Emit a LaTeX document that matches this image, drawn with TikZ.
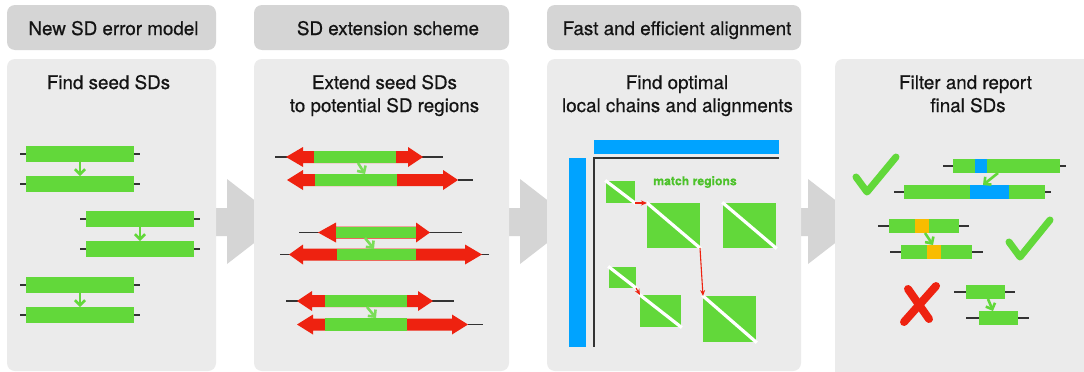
\documentclass[tikz,border=0pt]{standalone}
\usepackage{fontspec}
\setmainfont{TeX Gyre Heros}[FakeBold=0.6]
\newfontfamily\boldgreenfont{TeX Gyre Heros}[FakeBold=0.4]
\usetikzlibrary{arrows.meta,calc}
\definecolor{hdrgray}{HTML}{D5D5D5}
\definecolor{bodygray}{HTML}{EBEBEB}
\definecolor{sdgreen}{HTML}{62D83A}
\definecolor{txtgreen}{HTML}{4DC22B}
\definecolor{sdred}{HTML}{EE2210}
\definecolor{sdblue}{HTML}{00A3FF}
\definecolor{sdorange}{HTML}{F8BC00}
\newcommand\dblarr[5]{\fill[sdred] ({#2},{#1}) -- ({#3},{#1-10}) -- ({#3},{#1-6}) -- ({#4},{#1-6}) -- ({#4},{#1-10}) -- ({#5},{#1}) -- ({#4},{#1+10}) -- ({#4},{#1+6}) -- ({#3},{#1+6}) -- ({#3},{#1+10}) -- cycle;}
\newcommand\lstub[2]{\draw[stub] ($(#1.west)+(-#2,0)$) -- (#1.west);}
\newcommand\rstub[2]{\draw[stub] (#1.east) -- ($(#1.east)+(#2,0)$);}
\newcommand\flowarr[1]{\fill[flowarrow] ({#1-17},208) -- (#1,208) -- (#1,179) -- ({#1+55},221.5) -- (#1,264) -- (#1,236) -- ({#1-17},236) -- cycle;}
\tikzset{
  hdr/.style={fill=hdrgray, rounded corners=8pt},
  bodybox/.style={fill=bodygray, rounded corners=8pt},
  flowarrow/.style={fill=hdrgray},
  bar/.style={rectangle, fill=sdgreen, inner sep=0pt, outer sep=0pt, minimum height=16pt},
  sbar/.style={bar, minimum height=14pt},
  ebar/.style={bar, minimum height=12pt},
  stub/.style={draw=black!80, line width=1.1pt},
  garrow/.style={draw=sdgreen, line width=2.6pt, -{Straight Barb[length=5pt,width=10pt]}},
  rarrow/.style={draw=sdred, line width=1.1pt, -{Stealth[length=6pt,width=5pt]}},
  ttl/.style={font=\fontsize{18.8}{22}\selectfont, anchor=base, inner sep=0pt, text=black!92},
  sq/.style={rectangle, fill=sdgreen, inner sep=0pt, outer sep=0pt, anchor=north west},
  diag/.style={draw=white, line width=3.2pt, shorten <=-1pt, shorten >=-1pt},
  tick/.style={draw=sdgreen, line width=7pt, line cap=round, line join=round},
  cross/.style={draw=sdred, line width=8pt, line cap=round},
}
\begin{document}
\begin{tikzpicture}[x=1pt,y=-1pt]
\useasboundingbox (0,0) rectangle (1084,372);
\clip (0,0) rectangle (1084,372);
\fill[white] (0,0) rectangle (1084,372);
% flow arrows (behind panels)
\flowarr{227}
\flowarr{520}
\flowarr{808}
% headers
\fill[hdr] (7,5) rectangle (216,50);
\fill[hdr] (254,5) rectangle (509,50);
\fill[hdr] (547,5) rectangle (801,50);
% bodies
\fill[bodybox] (7,59) rectangle (216,371);
\fill[bodybox] (254,59) rectangle (509,371);
\fill[bodybox] (547,59) rectangle (801,371);
\fill[bodybox] (835,59) rectangle (1100,390);
% titles
\node[ttl] (h1) at (113.5,35) {New SD error model};
\node[ttl] (h2) at (388,35) {SD extension scheme};
\node[ttl] (h3) at (677,35) {Fast and efficient alignment};
\node[ttl] (t1) at (108.5,89) {Find seed SDs};
\node[ttl] (t2a) at (384.5,89) {Extend seed SDs};
\node[ttl] (t2b) at (384.5,112) {to potential SD regions};
\node[ttl] (t3a) at (677,89) {Find optimal};
\node[ttl] (t3b) at (677.5,112) {local chains and alignments};
\node[ttl] (t4a) at (965.5,89) {Filter and report};
\node[ttl] (t4b) at (968,112) {final SDs};
% ---------------- panel 1
\node[bar, minimum width=108pt] (a1) at (80,154) {};
\node[bar, minimum width=108pt] (a2) at (80,184) {};
\node[bar, minimum width=108pt] (b1) at (140,219) {};
\node[bar, minimum width=108pt] (b2) at (140,249) {};
\node[bar, minimum width=108pt] (c1) at (80,285) {};
\node[bar, minimum width=108pt] (c2) at (80,315) {};
\foreach \n in {a1,a2,b1,b2,c1,c2}{\lstub{\n}{6}\rstub{\n}{6}}
\draw[garrow] (a1.south) -- (a2.north);
\draw[garrow] (b1.south) -- (b2.north);
\draw[garrow] (c1.south) -- (c2.north);
% ---------------- panel 2
\draw[stub] (275,157) -- (443,157);
\draw[stub] (458,180) -- (473,180);
\draw[stub] (299,232.5) -- (462,232.5);
\draw[stub] (280,254.5) -- (489,254.5);
\draw[stub] (286,301) -- (454,301);
\draw[stub] (468,324.5) -- (483,324.5);
\dblarr{157}{286}{303}{408}{423}
\dblarr{180}{287}{303}{443}{458}
\dblarr{232.5}{318}{336}{416}{430}
\dblarr{254.5}{289}{303}{465}{482}
\dblarr{301}{297}{312}{418}{433}
\dblarr{324.5}{297}{313}{452}{468}
\node[ebar, minimum width=82pt] (g1a) at (355,157) {};
\node[ebar, minimum width=82pt] (g1b) at (356,180) {};
\node[ebar, minimum width=80pt, minimum height=11pt] (g2a) at (376,232.5) {};
\node[ebar, minimum width=79pt, minimum height=11pt] (g2b) at (376.5,254.5) {};
\node[ebar, minimum width=82pt] (g3a) at (366,301) {};
\node[ebar, minimum width=82pt, minimum height=13pt] (g3b) at (366,324.5) {};
\draw[garrow, draw=sdgreen!85!white] ($(g1a.south)+(3,0)$) -- ($(g1b.north)+(9,0)$);
\draw[garrow, draw=sdgreen!85!white] ($(g2a.south)+(-11,0)$) -- ($(g2b.north)+(-2.5,0)$);
\draw[garrow, draw=sdgreen!85!white] ($(g3a.south)+(1,0)$) -- ($(g3b.north)+(10,0)$);
% ---------------- panel 3
\fill[sdblue] (594,140) rectangle (779,154);
\fill[sdblue] (569,158) rectangle (586,347);
\draw[draw=black!80, line width=1.3pt] (779,158) -- (594,158) -- (594,347);
\node[font=\boldgreenfont\bfseries\fontsize{12.2}{14}\selectfont, text=txtgreen, inner sep=0pt] (mr) at (695,182) {match regions};
\node[sq, minimum width=29pt, minimum height=22pt] (s1) at (606,181) {};
\node[sq, minimum width=53pt, minimum height=45pt] (s2) at (647,203) {};
\node[sq, minimum width=53pt, minimum height=45pt] (s3) at (723,203) {};
\node[sq, minimum width=27pt, minimum height=21pt] (s4) at (609,267) {};
\node[sq, minimum width=41pt, minimum height=32pt] (s5) at (640,295) {};
\node[sq, minimum width=53pt, minimum height=46pt] (s6) at (703,296) {};
\foreach \n in {s1,s2,s3,s4,s5,s6}{\draw[diag] (\n.north west) -- (\n.south east);}
\draw[rarrow] (s1.south east) -- (s2.north west);
\draw[rarrow] (s2.south east) -- (s6.north west);
\draw[rarrow] (s4.south east) -- (s5.north west);
% ---------------- panel 4
\draw[tick] (856,177) -- (867,192) -- (896,157);
\draw[tick] (1009,242) -- (1020,257) -- (1050,220);
\draw[cross] (936,286) -- (904,322);
\draw[cross] (908,289) -- (929,319);
\node[sbar, minimum width=107pt] (p1a) at (1006.5,166) {};
\node[sbar, minimum width=141pt] (p1b) at (974.5,192) {};
\fill[sdblue] (975,159) rectangle (987,173);
\fill[sdblue] (970,185) rectangle (1009,199);
\lstub{p1a}{10}\rstub{p1a}{6}
\lstub{p1b}{10}\rstub{p1b}{6}
\draw[garrow] ($(p1a.south)+(-8.5,0)$) -- ($(p1b.north)+(8.5,0)$);
\node[sbar, minimum width=70pt] (p2a) at (924,226) {};
\node[sbar, minimum width=71pt] (p2b) at (936.5,252) {};
\fill[sdorange] (915,219) rectangle (929,233);
\fill[sdorange] (927,245) rectangle (941,259);
\lstub{p2a}{11}\rstub{p2a}{10}
\lstub{p2b}{11}\rstub{p2b}{11}
\draw[garrow] ($(p2a.south)+(1,0)$) -- ($(p2b.north)+(-3.5,0)$);
\node[sbar, minimum width=39pt] (p3a) at (985.5,292) {};
\node[sbar, minimum width=39pt] (p3b) at (998.5,318) {};
\lstub{p3a}{12}\rstub{p3a}{10}
\lstub{p3b}{13}\rstub{p3b}{11}
\draw[garrow] ($(p3a.south)+(2.5,0)$) -- ($(p3b.north)+(-5.5,0)$);
\end{tikzpicture}
\end{document}
